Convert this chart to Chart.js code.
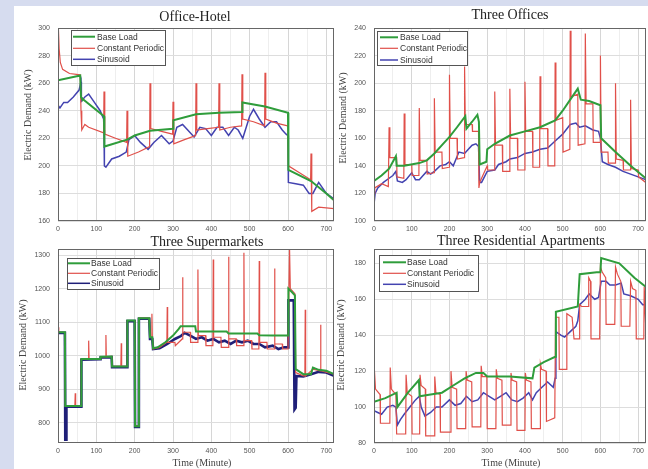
<!DOCTYPE html>
<html><head><meta charset="utf-8">
<script src="https://cdn.jsdelivr.net/npm/chart.js@4/dist/chart.umd.min.js"></script>
<style>
html,body{margin:0;padding:0;}
body{width:648px;height:469px;background:#d6dcef;position:relative;overflow:hidden;}
#panel{position:absolute;left:14px;top:6px;width:634px;height:463px;background:#fff;}
canvas{position:absolute;left:0;top:0;width:648px;height:469px;}
</style></head><body>
<div id="panel"></div>
<canvas id="c1" width="648" height="469"></canvas>
<canvas id="c2" width="648" height="469"></canvas>
<canvas id="c3" width="648" height="469"></canvas>
<canvas id="c4" width="648" height="469"></canvas>
<script>
// ---------- data: [time (minute), electric demand (kW)] ----------
const seriesNames = ['Base Load', 'Constant Periodic', 'Sinusoid'];
const chartTitles = ['Office-Hotel', 'Three Offices', 'Three Supermarkets', 'Three Residential Apartments'];
const timeTicks = [0, 50, 100, 150, 200, 250, 300, 350, 400, 450, 500, 550, 600, 650, 700];
const hotelTicks = [160, 180, 200, 220, 240, 260, 280, 300];
const officeTicks = [100, 120, 140, 160, 180, 200, 220, 240];
const marketTicks = [800, 900, 1000, 1100, 1200, 1300];
const aptTicks = [80, 100, 120, 140, 160, 180];

const hotelBase = [[0,262],[58,265.5],[60,250],[62,249],[120,236],[121,214],[180,219],[200,222],[240,225.5],[300,227],[301,233],[360,237.5],[420,238.5],[480,239],[481,246],[540,243],[600,238.5],[601,197],[660,189],[700,180],[720,175]];
const hotelCP = [[0,248],[1,300],[3,285],[6,275],[12,270],[30,267],[58,266],[60,240],[62,226],[70,230],[80,228],[119,224],[120,254],[122,223],[150,220],[179,217],[180,240],[182,207],[210,210],[239,214],[240,260],[242,227],[270,225],[299,223],[300,246.5],[302,216],[330,219],[359,222],[360,260],[362,226],[390,227],[419,228],[420,260],[422,226],[450,228],[479,229],[480,266.5],[482,234],[510,232],[539,229],[540,267.5],[542,234],[570,231],[599,229],[600,229],[601,200],[630,195],[659,190],[660,209],[662,167],[680,170],[720,169]];
const hotelSin = [[0,244],[5,242],[15,246],[25,246],[40,250],[55,255],[60,261],[61,247],[70,250],[80,252],[95,246],[110,240],[119,234],[120,226],[121,200],[125,199],[140,205],[160,207],[178,210],[185,219],[200,222],[215,217],[235,212],[250,217],[270,222],[290,216],[300,218],[310,228],[325,230],[345,224],[355,221],[370,228],[385,227],[400,222],[415,228],[430,228],[445,222],[460,228],[470,226],[482,220],[500,236],[510,241],[525,234],[540,228],[555,232],[570,232],[585,226],[595,223],[600,222],[601,188],[620,187],[640,186],[655,180],[665,180],[680,188],[700,180],[720,176]];

const officeBase = [[0,129],[20,133],[40,138],[58,147],[60,140],[80,140],[120,142],[140,144],[160,149],[180,155],[200,161],[220,168],[242,176],[245,167],[260,172],[274,177],[278,172],[280,141],[298,143],[300,152],[320,156],[360,162],[400,165],[440,168],[480,173],[500,180],[520,188],[540,196],[548,188],[570,187],[600,184],[602,160],[640,150],[680,140],[720,131]];
const officeCP = [[0,120],[2,124],[20,127],[38,125],[40,168],[42,146],[60,146],[61,132],[79,131],[80,178],[82,141],[100,141],[101,133],[119,133],[120,182],[122,144],[140,144],[141,134],[159,135],[160,189],[162,150],[180,150],[181,138],[199,139],[200,206],[202,160],[220,160],[221,145],[239,146],[240,212],[242,170],[260,170],[261,165],[277,165],[278,124],[280,128],[300,140],[301,137],[319,137],[320,194],[322,155],[340,155],[341,136],[359,136],[360,196],[362,160],[380,160],[381,137],[399,137],[400,201],[402,165],[420,165],[421,139],[439,139],[440,205],[442,167],[460,167],[461,140],[479,140],[480,215],[482,173],[500,175],[501,150],[519,152],[520,238],[522,190],[540,192],[541,155],[559,156],[560,236],[562,185],[580,185],[581,157],[599,157],[600,220],[602,150],[620,150],[621,142],[639,142],[640,200],[642,145],[660,144],[661,137],[679,137],[680,188],[682,138],[700,137],[701,132],[720,128]];
const officeSin = [[0,112],[3,120],[10,124],[25,128],[40,131],[50,133],[58,136],[62,129],[75,128],[85,130],[100,135],[110,130],[120,130],[130,133],[140,136],[150,134],[160,136],[175,140],[190,141],[200,143],[210,140],[225,150],[240,149],[250,152],[260,155],[270,156],[277,154],[280,128],[285,128],[300,136],[320,137],[330,141],[350,143],[360,145],[380,146],[400,149],[420,150],[440,152],[460,153],[480,158],[500,163],[520,170],[535,171],[545,168],[560,169],[580,166],[595,165],[600,160],[605,143],[620,141],[640,139],[660,136],[680,134],[700,132],[720,130]];

const marketBase = [[0,1070],[18,1070],[19,850],[60,850],[61,990],[110,990],[111,997],[140,998],[141,968],[180,968],[181,1105],[200,1105],[201,790],[210,790],[211,1112],[238,1112],[240,1055],[246,1055],[248,1022],[260,1025],[280,1040],[300,1060],[315,1080],[320,1088],[358,1088],[360,1072],[440,1072],[445,1066],[520,1066],[525,1061],[560,1060],[600,1060],[601,1200],[610,1190],[618,1180],[620,960],[640,945],[660,945],[665,965],[680,958],[700,955],[720,945]];
const marketCP = [[0,1085],[2,1070],[18,1070],[19,850],[44,850],[45,888],[46,850],[60,850],[61,990],[79,990],[80,1045],[81,990],[110,990],[111,997],[124,997],[125,1062],[126,997],[140,998],[141,968],[164,968],[165,1037],[166,968],[180,968],[181,1105],[200,1105],[201,790],[210,790],[211,1112],[238,1112],[240,1055],[244,1055],[245,1125],[246,1055],[248,1020],[265,1025],[284,1040],[285,1145],[286,1040],[305,1040],[306,1030],[324,1050],[325,1234],[326,1070],[345,1070],[346,1040],[364,1040],[365,1257],[366,1060],[385,1060],[386,1030],[404,1030],[405,1287],[406,1055],[425,1055],[426,1025],[444,1025],[445,1295],[446,1050],[465,1050],[466,1030],[484,1030],[485,1307],[486,1045],[505,1045],[506,1020],[524,1020],[525,1282],[526,1040],[545,1040],[546,1020],[564,1020],[565,1260],[566,1035],[585,1035],[586,1020],[600,1020],[604,1320],[606,1200],[618,1185],[620,950],[640,940],[644,940],[645,1137],[646,940],[665,960],[684,955],[685,1092],[686,955],[720,945]];
const marketSin = [[0,1068],[18,1068],[19,750],[21,750],[22,848],[60,848],[61,988],[110,990],[111,995],[140,996],[141,966],[180,966],[181,1103],[200,1103],[201,788],[210,788],[211,1110],[238,1110],[240,1050],[246,1050],[248,1020],[265,1022],[285,1035],[305,1050],[320,1058],[330,1068],[345,1060],[360,1050],[375,1055],[390,1045],[405,1050],[420,1040],[435,1045],[450,1035],[465,1045],[480,1040],[495,1045],[510,1035],[525,1035],[540,1025],[560,1030],[575,1020],[590,1025],[600,1025],[601,1165],[615,1165],[617,840],[620,845],[622,940],[640,938],[660,945],[680,952],[700,950],[720,940]];

const aptBase = [[0,103],[30,105],[60,108],[62,100],[90,108],[119,115],[121,106],[150,107],[180,108],[210,112],[240,116],[270,119],[290,119],[300,117],[360,117],[420,116],[425,122],[450,125],[480,128],[482,153],[540,156],[545,174],[590,175],[600,175],[602,183],[650,180],[690,172],[720,167]];
const aptCP = [[0,92],[1,121],[4,110],[16,107],[17,91],[42,91],[43,122],[46,110],[58,107],[60,85],[84,85],[85,118],[88,108],[100,106],[101,85],[121,85],[122,118],[125,112],[136,110],[137,84],[160,84],[161,117],[164,108],[175,107],[176,86],[203,86],[204,120],[207,111],[219,110],[220,88],[243,88],[244,120],[247,115],[259,114],[260,89],[283,89],[284,123],[287,117],[299,117],[300,88],[323,88],[324,121],[327,116],[339,115],[340,90],[362,90],[363,119],[366,115],[378,114],[379,87],[400,87],[401,119],[404,115],[416,114],[417,88],[440,88],[441,124],[444,121],[456,120],[457,92],[479,94],[481,150],[490,150],[491,121],[510,121],[511,152],[525,150],[530,138],[544,138],[545,157],[550,156],[568,156],[569,172],[574,170],[575,138],[598,138],[600,178],[605,175],[614,172],[615,146],[638,146],[640,178],[645,174],[654,170],[655,145],[678,145],[680,170],[685,166],[694,165],[695,138],[715,138],[716,167],[720,145]];
const aptSin = [[0,98],[10,97],[20,96],[35,100],[50,101],[58,100],[62,90],[70,93],[80,96],[95,100],[110,104],[120,106],[125,100],[135,95],[150,97],[165,100],[180,100],[200,104],[215,101],[230,102],[245,106],[260,103],[275,104],[290,108],[305,106],[320,104],[335,106],[350,108],[365,104],[380,103],[395,105],[410,108],[420,104],[430,108],[445,111],[460,114],[475,111],[480,116],[482,142],[495,140],[505,139],[520,142],[535,145],[540,148],[545,157],[560,160],[570,163],[585,160],[595,161],[602,170],[615,170],[625,168],[640,168],[655,169],[662,163],[680,162],[700,160],[712,157],[720,157]];

// ---------- drawing ----------
const GREEN = '#2f9d3b', RED = '#e0504a', BLUE = '#4343b0';
const TICKFONT = {family:'Liberation Sans', size:7};

function mk(id, s){
  const YW = 30, XH = 16;
  const pts = a => a.map(p => ({x:p[0], y:p[1]}));
  const ds = [
    {data:pts(s.base), borderColor:GREEN, borderWidth:2},
    {data:pts(s.cp), borderColor:RED, borderWidth:1.2},
    {data:pts(s.sin), borderColor:s.blue || BLUE, borderWidth:s.bw || 1.5}
  ].map(d => Object.assign(d, {pointRadius:0, tension:0, fill:false}));
  new Chart(document.getElementById(id), {
    type:'line',
    data:{datasets:ds},
    options:{
      responsive:false, animation:false, devicePixelRatio:1,
      layout:{padding:{left:s.l - YW, top:s.t, right:648 - s.r, bottom:469 - s.b - XH}},
      plugins:{legend:{display:false}, tooltip:{enabled:false}, title:{display:false}},
      scales:{
        x:{type:'linear', min:0, max:720, border:{display:false},
          afterBuildTicks:a => { a.ticks = timeTicks.map(v => ({value:v})); },
          afterFit:a => { a.height = XH; },
          ticks:{autoSkip:false, maxRotation:0, padding:4, color:'#555', font:TICKFONT,
                 callback:v => (v % 100 === 0 ? String(v) : '')},
          grid:{drawTicks:false, color:c => (c.tick && c.tick.value % 100 === 0 ? '#d6d6d6' : '#eeeeee')}},
        y:{type:'linear', min:s.ymin, max:s.ymax, border:{display:false},
          afterBuildTicks:a => { a.ticks = s.yticks.map(v => ({value:v})); },
          afterFit:a => { a.width = YW; },
          ticks:{autoSkip:false, padding:8, color:'#555', font:TICKFONT, callback:v => String(v)},
          grid:{drawTicks:false, color:'#dddddd'}}
      }
    },
    plugins:[{id:'deco', afterDraw(chart){
      const c = chart.ctx, a = chart.chartArea;
      c.save();
      c.strokeStyle = '#666'; c.lineWidth = 1;
      c.strokeRect(Math.round(a.left) + 0.5, Math.round(a.top) + 0.5, Math.round(a.right - a.left) - 1, Math.round(a.bottom - a.top) - 1);
      c.fillStyle = '#222'; c.textAlign = 'center'; c.textBaseline = 'middle';
      c.font = '14px "Liberation Serif"';
      c.fillText(s.title, s.tx, s.ty);
      c.font = '10px "Liberation Serif"'; c.fillStyle = '#444';
      c.save(); c.translate(s.yx, s.yy); c.rotate(-Math.PI / 2); c.fillText('Electric Demand (kW)', 0, 0); c.restore();
      if (s.xt) { c.fillText('Time (Minute)', s.xt[0], s.xt[1]); }
      const L = s.leg;
      c.fillStyle = '#fff'; c.fillRect(L.x, L.y, L.w, L.h);
      c.strokeStyle = '#555'; c.lineWidth = 1; c.strokeRect(L.x + 0.5, L.y + 0.5, L.w, L.h);
      const cols = [GREEN, RED, s.blue || BLUE], wid = [2, 1.2, 1.5];
      c.font = '8.5px "Liberation Sans"'; c.textAlign = 'left';
      seriesNames.forEach((n, i) => {
        const yy = L.rows[i];
        c.strokeStyle = cols[i]; c.lineWidth = wid[i];
        c.beginPath(); c.moveTo(L.l1, yy); c.lineTo(L.l2, yy); c.stroke();
        c.fillStyle = '#333'; c.fillText(n, L.tx, yy + 0.5);
      });
      c.restore();
    }}]
  });
}

mk('c1', {base:hotelBase, cp:hotelCP, sin:hotelSin, l:58, t:28, r:334, b:221, ymin:160, ymax:300, yticks:hotelTicks,
  title:chartTitles[0], tx:195, ty:17, yx:28, yy:115,
  leg:{x:71, y:30, w:94, h:35, rows:[36.7, 48.3, 59.3], l1:73, l2:95, tx:97}});
mk('c2', {base:officeBase, cp:officeCP, sin:officeSin, l:374, t:28, r:648, b:221, ymin:100, ymax:240, yticks:officeTicks,
  title:chartTitles[1], tx:510, ty:15, yx:343, yy:118,
  leg:{x:377, y:31, w:90, h:34, rows:[37.3, 48.3, 60], l1:380, l2:398, tx:400}});
mk('c3', {base:marketBase, cp:marketCP, sin:marketSin, l:58, t:249, r:334, b:443, ymin:740, ymax:1318, yticks:marketTicks,
  blue:'#1f1f78', bw:2.6,
  title:chartTitles[2], tx:207, ty:242, yx:23, yy:345, xt:[202, 463],
  leg:{x:67, y:258, w:92, h:31, rows:[263.3, 273.3, 283.3], l1:68, l2:90, tx:91}});
mk('c4', {base:aptBase, cp:aptCP, sin:aptSin, l:374, t:249, r:648, b:443, ymin:80, ymax:188, yticks:aptTicks,
  title:chartTitles[3], tx:521, ty:241, yx:341, yy:345, xt:[511, 463],
  leg:{x:379, y:255, w:99, h:36, rows:[262.3, 273.3, 284.3], l1:383, l2:406, tx:407}});
</script>
</body></html>
